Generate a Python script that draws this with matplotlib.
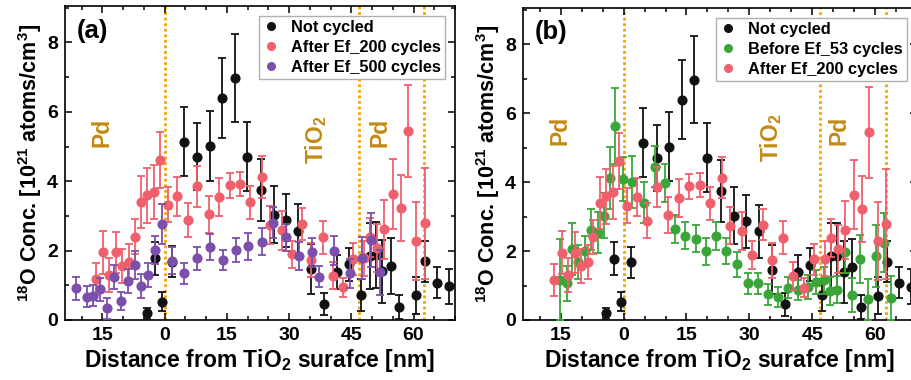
import matplotlib
matplotlib.use("Agg")
import matplotlib.pyplot as plt
from matplotlib.lines import Line2D
from matplotlib.ticker import MultipleLocator, FuncFormatter

plt.rcParams["font.family"] = ["Liberation Sans", "DejaVu Sans"]
plt.rcParams["font.weight"] = "bold"
plt.rcParams["axes.labelweight"] = "bold"
plt.rcParams["mathtext.fontset"] = "custom"
plt.rcParams["mathtext.rm"] = "Liberation Sans:bold"
plt.rcParams["mathtext.bf"] = "Liberation Sans:bold"
plt.rcParams["mathtext.it"] = "Liberation Sans:bold"
plt.rcParams["mathtext.default"] = "bf"

# ---- depth profiles: distance [nm], 18O concentration [1e21 atoms/cm3], error ----
not_cycled_x = [-4.2, -2.2, -0.6, 1.7, 4.6, 7.9, 10.9, 13.9, 16.9, 19.9, 23.2, 26.3,
                29.2, 32.2, 35.3, 38.4, 41.6, 44.4, 47.3, 49.6, 51.0, 52.5, 54.5, 56.6,
                60.6, 62.8, 65.7, 68.5]
not_cycled_y = [0.19, 1.78, 0.53, 1.68, 5.14, 4.71, 5.02, 6.39, 6.97, 4.71, 3.75, 3.03,
                2.87, 2.57, 1.46, 0.45, 1.38, 1.60, 0.73, 1.85, 1.87, 1.40, 1.55, 0.37,
                0.71, 1.69, 1.08, 0.97]
not_cycled_e = [0.17, 0.47, 0.28, 0.45, 1.00, 0.96, 1.00, 1.15, 1.27, 1.00, 0.90, 0.82,
                0.77, 0.78, 0.72, 0.32, 0.50, 0.48, 0.46, 0.95, 0.95, 0.90, 0.80, 0.35,
                0.53, 0.60, 0.45, 0.50]

ef200_x = [-16.6, -14.8, -13.3, -11.6, -10.2, -8.6, -7.2, -5.7, -4.2, -2.6, -1.0, 0.8,
           3.1, 5.7, 7.9, 10.7, 13.1, 15.7, 18.2, 20.7, 23.4, 25.5, 28.2, 30.6, 33.2,
           35.4, 38.1, 40.5, 43.1, 45.5, 48.0, 49.6, 51.1, 52.9, 55.0, 56.9, 58.6, 60.6,
           62.7]
ef200_y = [1.17, 1.95, 1.30, 1.95, 1.56, 1.68, 2.40, 3.39, 3.59, 3.70, 4.61, 3.32,
           3.56, 2.88, 3.85, 3.05, 3.54, 3.88, 3.91, 3.39, 4.13, 2.74, 2.58, 1.89, 2.77,
           1.73, 2.38, 1.28, 0.94, 1.76, 1.78, 2.38, 2.07, 2.61, 3.63, 3.22, 5.45, 2.28,
           2.79]
ef200_e = [0.46, 0.62, 0.50, 0.60, 0.50, 0.50, 0.50, 0.75, 0.80, 0.78, 0.80, 0.50,
           0.55, 0.50, 0.58, 0.53, 0.55, 0.36, 0.35, 0.48, 0.60, 0.55, 0.55, 0.40, 0.45,
           0.50, 0.48, 0.40, 0.28, 0.45, 0.50, 0.55, 0.70, 0.85, 1.00, 0.95, 1.32, 1.13,
           1.60]

ef500_x = [-21.4, -18.8, -17.2, -15.6, -13.8, -12.2, -10.6, -8.8, -7.2, -5.6, -3.9, -2.2,
           -0.7, 1.9, 4.8, 7.9, 10.9, 14.1, 17.1, 20.1, 23.4, 26.2, 29.3, 32.5, 35.5,
           37.2, 40.8, 44.7, 47.6, 49.8, 52.0]
ef500_y = [0.91, 0.67, 0.70, 0.88, 0.34, 1.23, 0.55, 1.13, 1.59, 0.98, 1.29, 2.02,
           2.77, 1.71, 1.35, 1.78, 2.10, 1.73, 2.02, 2.12, 2.26, 2.81, 2.38, 1.85, 1.95,
           1.25, 2.00, 1.35, 1.78, 2.31, 1.37]
ef500_e = [0.33, 0.30, 0.30, 0.33, 0.30, 0.35, 0.25, 0.35, 0.40, 0.35, 0.35, 0.40,
           0.58, 0.38, 0.30, 0.33, 0.38, 0.30, 0.35, 0.38, 0.38, 0.45, 0.40, 0.40, 0.42,
           0.30, 0.42, 0.42, 0.60, 0.77, 0.65]

ef53_x = [-15.1, -13.6, -12.3, -10.9, -9.3, -7.7, -6.1, -4.6, -3.2, -2.0, -0.2, 2.0,
          4.8, 7.4, 9.8, 12.3, 14.7, 17.3, 19.6, 22.0, 24.5, 27.0, 29.6, 32.0, 34.4,
          36.9, 39.3, 41.7, 44.0, 46.0, 47.9, 49.3, 50.9, 52.8, 54.4, 56.4, 58.3, 60.1,
          62.2, 63.9]
ef53_y = [1.17, 1.06, 2.06, 1.68, 2.00, 2.62, 2.53, 3.03, 4.13, 5.62, 4.09, 4.00,
          3.40, 4.45, 3.97, 2.64, 2.45, 2.36, 1.99, 2.43, 1.99, 1.61, 1.06, 1.06, 0.74,
          0.67, 0.94, 0.87, 0.95, 1.10, 1.15, 0.84, 0.88, 1.97, 0.72, 1.77, 0.60, 1.86,
          2.24, 0.64]
ef53_e = [1.17, 0.50, 0.75, 0.50, 0.45, 0.60, 0.60, 0.65, 0.90, 1.10, 0.65, 0.75,
          0.60, 0.60, 0.55, 0.40, 0.40, 0.40, 0.40, 0.40, 0.38, 0.35, 0.30, 0.30, 0.30,
          0.30, 0.30, 0.30, 0.35, 0.35, 0.40, 0.40, 0.40, 0.60, 0.50, 0.70, 0.60, 0.90,
          0.85, 0.64]

# layer boundaries [nm] and layer labels (text, x, y)
interfaces = [0, 46.8, 62.5]
layer_labels_a = [("Pd", -15.0, 5.4), ("TiO$_2$", 36.4, 5.2), ("Pd", 52.0, 5.4)]
layer_labels_b = [("Pd", -15.1, 5.5), ("TiO$_2$", 35.2, 5.3), ("Pd", 51.5, 5.5)]

BLACK = "#111111"
RED = "#f0606c"
PURPLE = "#7b4fab"
GREEN = "#3aa63a"
ORANGE = "#f5a400"
GOLD = "#c28a12"

fig = plt.figure(figsize=(9.11, 3.80), dpi=100)
ax_a = fig.add_axes([65 / 911, 60 / 380, 390 / 911, 314 / 380])
ax_b = fig.add_axes([523 / 911, 60 / 380, 394 / 911, 312 / 380])


def draw_series(ax, x, y, e, color, z):
    ax.errorbar(x, y, yerr=e, fmt="o", color=color, ecolor=color, markersize=6.3,
                elinewidth=1.3, capsize=2.6, capthick=1.3, zorder=z)


def style_axes(ax, labels, panel, legend_items):
    ax.set_xlim(-24, 70)
    ax.set_ylim(0, 9.05)
    ax.xaxis.set_major_locator(MultipleLocator(15))
    ax.xaxis.set_minor_locator(MultipleLocator(5))
    ax.yaxis.set_major_locator(MultipleLocator(2))
    ax.yaxis.set_minor_locator(MultipleLocator(1))
    ax.xaxis.set_major_formatter(FuncFormatter(lambda v, p: f"{abs(v):g}"))
    ax.tick_params(which="both", direction="in", top=True, right=True,
                   width=1.1, labelsize=14, pad=5)
    ax.tick_params(which="major", length=5)
    ax.tick_params(which="minor", length=3)
    for s in ax.spines.values():
        s.set_linewidth(1.2)
    for xv in interfaces:
        ax.axvline(xv, color=ORANGE, ls=(0, (1, 1)), lw=2.0, zorder=1)
    for txt, xv, yv in labels:
        ax.text(xv, yv, txt, rotation=90, color=GOLD, fontsize=16.5, fontweight="bold",
                ha="center", va="center")
    ax.text(0.03, 0.96, panel, transform=ax.transAxes, fontsize=18.5,
            fontweight="bold", ha="left", va="top")
    ax.set_xlabel("Distance from TiO$_2$ surafce [nm]", fontsize=16.5,
                  fontweight="bold", labelpad=2)
    ax.set_ylabel("$^{18}$O Conc. [10$^{21}$ atoms/cm$^3$]", fontsize=15.5,
                  fontweight="bold", labelpad=2)
    handles = [Line2D([], [], ls="none", marker="o", markersize=5.5, color=c)
               for c, _ in legend_items]
    leg = ax.legend(handles, [t for _, t in legend_items], loc="upper right",
                    fontsize=11.8, frameon=True, fancybox=False, framealpha=1.0,
                    handlelength=0.9, handletextpad=0.8, borderpad=0.25,
                    labelspacing=0.3, borderaxespad=0.6)
    leg.get_frame().set_edgecolor("#b0b0b0")
    leg.get_frame().set_linewidth(1.0)
    leg.set_zorder(10)


draw_series(ax_a, not_cycled_x, not_cycled_y, not_cycled_e, BLACK, 3)
draw_series(ax_a, ef200_x, ef200_y, ef200_e, RED, 4)
draw_series(ax_a, ef500_x, ef500_y, ef500_e, PURPLE, 5)
style_axes(ax_a, layer_labels_a, "(a)",
           [(BLACK, "Not cycled"), (RED, "After Ef_200 cycles"),
            (PURPLE, "After Ef_500 cycles")])

draw_series(ax_b, not_cycled_x, not_cycled_y, not_cycled_e, BLACK, 3)
draw_series(ax_b, ef53_x, ef53_y, ef53_e, GREEN, 4)
draw_series(ax_b, ef200_x, ef200_y, ef200_e, RED, 5)
style_axes(ax_b, layer_labels_b, "(b)",
           [(BLACK, "Not cycled"), (GREEN, "Before Ef_53 cycles"),
            (RED, "After Ef_200 cycles")])

fig.savefig("out.png", dpi=100)
